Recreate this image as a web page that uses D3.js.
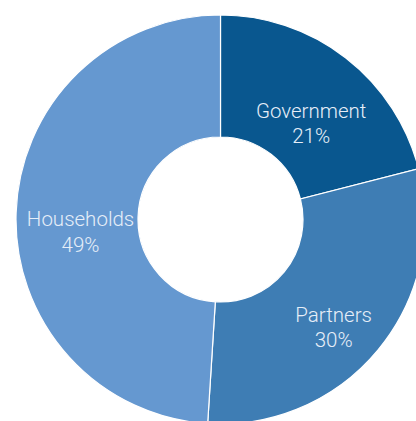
<!DOCTYPE html>
<html>
<head>
<meta charset="utf-8">
<script src="https://cdn.jsdelivr.net/npm/d3@7"></script>
<style>
  html, body { margin: 0; padding: 0; background: #ffffff; }
  svg { display: block; }
</style>
</head>
<body>
<svg id="chart" width="416" height="421"></svg>
<script>
const categories = ["Government", "Partners", "Households"];
const values = [21, 30, 49];
const colors = ["#09578f", "#3e7db4", "#6598d0"];

const width = 416, height = 421;
const cx = 220.5, cy = 219.5;
const outerR = 204.5, innerR = 82.5;

const svg = d3.select("#chart");
const g = svg.append("g").attr("transform", `translate(${cx},${cy})`);

const data = categories.map((c, i) => ({ name: c, value: values[i], color: colors[i] }));
const pie = d3.pie().value(d => d.value).sort(null);
const arcs = pie(data);

const arc = d3.arc().innerRadius(innerR).outerRadius(outerR);
const labelArc = d3.arc().innerRadius(140).outerRadius(146);

g.selectAll("path.slice")
  .data(arcs)
  .enter().append("path")
  .attr("class", "slice")
  .attr("d", arc)
  .attr("fill", d => d.data.color)
  .attr("stroke", "#ffffff")
  .attr("stroke-width", 1.2);

const labels = g.selectAll("text.lbl")
  .data(arcs)
  .enter().append("text")
  .attr("class", "lbl")
  .attr("text-anchor", "middle")
  .attr("font-family", "Roboto, 'Noto Sans', sans-serif")
  .attr("font-weight", 300)
  .attr("font-size", 20.5)
  .attr("fill", "#e6eef8")
  .attr("transform", d => {
    const [x, y] = labelArc.centroid(d);
    return `translate(${x + 3},${y + 4})`;
  });

labels.append("tspan")
  .attr("x", 0)
  .attr("dy", "0.35em")
  .text(d => d.data.name);
labels.append("tspan")
  .attr("x", 0)
  .attr("dy", "1.25em")
  .text(d => d.data.value + "%");
</script>
</body>
</html>
